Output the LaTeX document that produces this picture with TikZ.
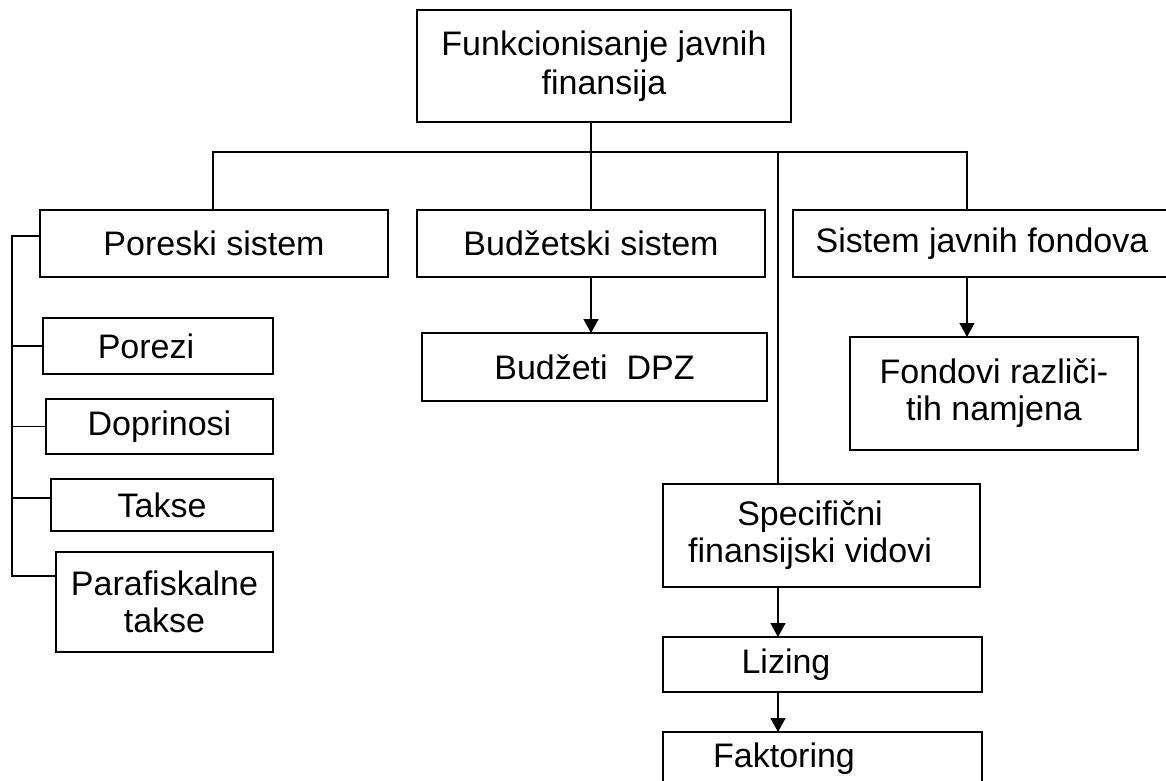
\documentclass[tikz,border=0pt]{standalone}
\usepackage{fontspec}
\setmainfont{Liberation Sans}
\usetikzlibrary{arrows.meta}
\newcommand\diagfont{\fontsize{34}{37}\selectfont}
\begin{document}
\begin{tikzpicture}[x=1pt,y=-1pt,line width=1.6pt,
  box/.style={draw,inner sep=0pt,outer sep=0pt,font=\diagfont,align=center},
  txt/.style={font=\diagfont,inner sep=0pt,align=center},
  arr/.style={-{Triangle[length=14pt,width=15pt]}}]
\useasboundingbox (0,0) rectangle (1166,780);
% boxes
\node[box,minimum width=374pt,minimum height=112pt,font=\fontsize{34}{39}\selectfont] (top) at (604,66) {Funkcionisanje javnih\\finansija};
\node[box,minimum width=348pt,minimum height=67pt] (poreski) at (214,243.5) {Poreski sistem};
\node[box,minimum width=348pt,minimum height=67pt] (budzetski) at (591,243.5) {Budžetski sistem};
\node[box,minimum width=378pt,minimum height=67pt] (sistem) at (982,243.5) {Sistem javnih fondova};
\node[box,minimum width=230pt,minimum height=56pt] (porezi) at (158,346) {};
\node[txt] (poreziT) at (146,346) {Porezi};
\node[box,minimum width=227pt,minimum height=55pt] (doprinosi) at (159.5,426.5) {Doprinosi};
\node[box,minimum width=222pt,minimum height=52pt] (takse) at (162,505) {Takse};
\node[box,minimum width=217pt,minimum height=100pt] (para) at (164.5,602) {Parafiskalne\\takse};
\node[box,minimum width=345pt,minimum height=68pt] (budzeti) at (594.5,367) {Budžeti\ \ DPZ};
\node[box,minimum width=288pt,minimum height=113pt] (fondovi) at (994,393.5) {Fondovi različi-\\tih namjena};
\node[box,minimum width=317pt,minimum height=103pt] (spec) at (821.5,535.5) {};
\node[txt] (specT) at (810,535.5) {Specifični\\finansijski vidovi};
\node[box,minimum width=319pt,minimum height=55pt] (lizing) at (822.5,664.5) {};
\node[txt] (lizingT) at (786,664.5) {Lizing};
\node[box,minimum width=319pt,minimum height=68pt] (faktoring) at (822.5,766) {};
\node[txt,anchor=base] (faktoringT) at (784,767) {Faktoring};
% bus coordinates
\coordinate (busL) at (213,152);
\coordinate (busR) at (967,152);
\coordinate (busS) at (778,152);
\coordinate (trT) at (12,236);
\coordinate (trB) at (12,576);
\coordinate (tkB) at (12,498);
% connectors
\draw (top.south -| budzetski.north) -- (budzetski.north);
\draw (busL |- poreski.north) -- (busL) -- (busR) -- (busR |- sistem.north);
\draw (busS) -- (busS |- spec.north);
\draw[arr] (budzetski.south) -- (budzetski.south |- budzeti.north);
\draw[arr] (busR |- sistem.south) -- (busR |- fondovi.north);
\draw[arr] (busS |- spec.south) -- (busS |- lizing.north);
\draw[arr] (busS |- lizing.south) -- (busS |- faktoring.north);
\draw (poreski.west |- trT) -- (trT) -- (trB) -- (trB -| para.west);
\draw (trT |- porezi.west) -- (porezi.west);
\draw (trT |- doprinosi.west) -- (doprinosi.west);
\draw (tkB) -- (tkB -| takse.west);
\end{tikzpicture}
\end{document}
